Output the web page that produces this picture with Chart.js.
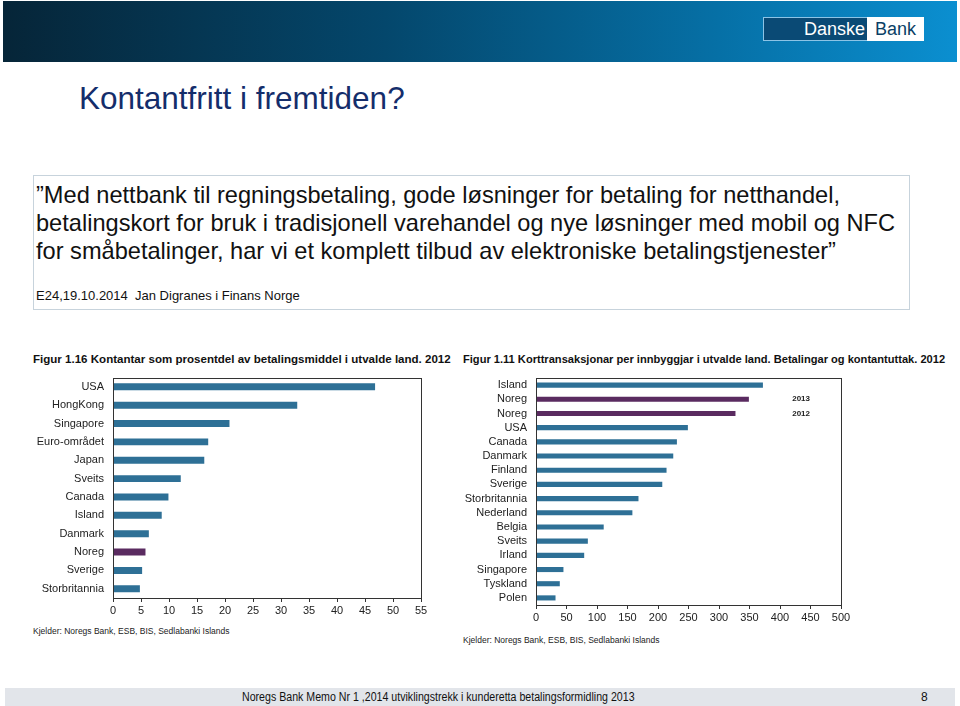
<!DOCTYPE html>
<html lang="no">
<head>
    <meta charset="UTF-8">
    <title>Kontantfritt i fremtiden?</title>
    <style>
        body {
            margin: 0;
            width: 960px;
            height: 706px;
            position: relative;
            overflow: hidden;
            background: #fff;
            font-family: "Liberation Sans", Arial, sans-serif;
        }

        #header {
            position: absolute;
            left: 3px; top: 1px; width: 954px; height: 61px;
            background: linear-gradient(to right, #062538 0%, #04476c 40%, #0670a6 75%, #0b8fd0 100%);
        }

        #logo-danske {
            position: absolute;
            left: 763px; top: 17px; width: 101px; height: 22px;
            background: #0a4a75;
            border: 1px solid #8cc4e6;
            color: #fff;
            font-size: 18px;
            line-height: 22px;
            text-align: right;
            padding-right: 2px;
            box-sizing: content-box;
        }

        #logo-bank {
            position: absolute;
            left: 867px; top: 17px; width: 57px; height: 24px;
            background: #fff;
            color: #0a3f66;
            font-size: 18px;
            line-height: 24px;
            text-align: center;
        }

        #title {
            position: absolute;
            left: 79px; top: 80px;
            font-size: 31.5px;
            color: #142d6b;
            white-space: nowrap;
        }

        #quote {
            position: absolute;
            left: 33px; top: 175px; width: 875px; height: 133px;
            border: 1px solid #c7d3dc;
        }

        #quote p {
            margin: 0;
            position: absolute;
            left: 2px; top: 5px;
            font-size: 23.6px;
            line-height: 28px;
            color: #111;
            white-space: nowrap;
        }

        #quote .src {
            top: 112px;
            font-size: 13px;
            line-height: 16px;
        }

        .fig-title {
            position: absolute;
            top: 353px;
            font-weight: bold;
            white-space: nowrap;
            color: #111;
        }

        .source {
            position: absolute;
            font-size: 8.5px;
            color: #222;
            white-space: nowrap;
        }

        .chart-box {
            position: absolute;
        }

        #footer {
            position: absolute;
            left: 5px; top: 688px; width: 950px; height: 18px;
            background: #e2e5ea;
            font-size: 12px;
            line-height: 18px;
            color: #111;
        }

        #footer .memo {
            position: absolute;
            left: 237px;
            white-space: nowrap;
            transform: scaleX(0.885);
            transform-origin: left center;
        }
    </style>
</head>
<body>
<div id="header">
</div>
<div id="logo-danske">Danske</div>
<div id="logo-bank">Bank</div>

<div id="title">Kontantfritt i fremtiden?</div>

<div id="quote">
    <p>”Med nettbank til regningsbetaling, gode løsninger for betaling for netthandel,<br>
        betalingskort for bruk i tradisjonell varehandel og nye løsninger med mobil og NFC<br>
        for småbetalinger, har vi et komplett tilbud av elektroniske betalingstjenester”</p>
    <p class="src">E24,19.10.2014&nbsp; Jan Digranes i Finans Norge</p>
</div>

<div class="fig-title" style="left:33px; font-size:11.55px;">Figur 1.16 Kontantar som prosentdel av betalingsmiddel i utvalde land. 2012</div>
<div class="fig-title" style="left:463px; font-size:11.1px;">Figur 1.11 Korttransaksjonar per innbyggjar i utvalde land. Betalingar og kontantuttak. 2012</div>

<div class="chart-box" style="left:30px; top:370px; width:415px; height:255px;">
    <canvas id="cashChart"></canvas>
</div>
<div class="chart-box" style="left:460px; top:370px; width:400px; height:265px;">
    <canvas id="cardChart"></canvas>
</div>

<div class="source" style="left:33px; top:626px;">Kjelder: Noregs Bank, ESB, BIS, Sedlabanki Islands</div>
<div class="source" style="left:463px; top:635px;">Kjelder: Noregs Bank, ESB, BIS, Sedlabanki Islands</div>

<div id="footer">
    <span class="memo">Noregs Bank Memo Nr 1 ,2014 utviklingstrekk i kunderetta betalingsformidling 2013</span>
    <span style="position:absolute; left:916px;">8</span>
</div>

<script src="https://cdn.jsdelivr.net/npm/chart.js"></script>
<script>
    // Figur 1.16 - kontantar i prosent av betalingsmiddel
    const cashLabels = ["USA", "HongKong", "Singapore", "Euro-området", "Japan", "Sveits", "Canada", "Island", "Danmark", "Noreg", "Sverige", "Storbritannia"];
    const cashValues = [46.8, 32.9, 20.8, 17.0, 16.3, 12.1, 9.9, 8.7, 6.4, 5.8, 5.2, 4.8];

    // Figur 1.11 - korttransaksjonar per innbyggjar
    const cardLabels = ["Island", "Noreg", "Noreg", "USA", "Canada", "Danmark", "Finland", "Sverige", "Storbritannia", "Nederland", "Belgia", "Sveits", "Irland", "Singapore", "Tyskland", "Polen"];
    const cardValues = [372, 349, 327, 249, 231, 225, 214, 207, 168, 158, 111, 85, 79, 45, 39, 32];
    const cardNotes = ["", "2013", "2012", "", "", "", "", "", "", "", "", "", "", "", "", ""];

    const blue = '#2e7096';
    const purple = '#5a2b60';

    // ramme rundt plottet
    const framePlugin = {
        id: 'frame',
        afterDraw(chart) {
            const a = chart.chartArea;
            const ctx = chart.ctx;
            ctx.save();
            ctx.strokeStyle = '#333';
            ctx.lineWidth = 1;
            ctx.strokeRect(Math.round(a.left) + 0.5, Math.round(a.top) + 0.5, Math.round(a.right - a.left), Math.round(a.bottom - a.top));
            ctx.restore();
        }
    };

    // årstal ved Noreg-stolpane
    const notePlugin = {
        id: 'notes',
        afterDatasetsDraw(chart) {
            const ctx = chart.ctx;
            const x = chart.scales.x.getPixelForValue(420);
            ctx.save();
            ctx.font = 'bold 8px "Liberation Sans", Arial, sans-serif';
            ctx.fillStyle = '#222';
            ctx.textBaseline = 'middle';
            cardNotes.forEach((note, i) => {
                if (note) {
                    ctx.fillText(note, x, chart.scales.y.getPixelForValue(i));
                }
            });
            ctx.restore();
        }
    };

    Chart.defaults.font.family = '"Liberation Sans", Arial, sans-serif';
    Chart.defaults.color = '#222';

    function renderChart(canvasId, labels, values, max, step, yWidth, xHeight, padding, barPct, plugins) {
        new Chart(document.getElementById(canvasId), {
            type: 'bar',
            data: {
                labels: labels,
                datasets: [{
                    data: values,
                    backgroundColor: labels.map(l => l === 'Noreg' ? purple : blue),
                    barPercentage: barPct,
                    categoryPercentage: 1
                }]
            },
            options: {
                indexAxis: 'y',
                responsive: true,
                maintainAspectRatio: false,
                animation: false,
                layout: {padding: padding},
                plugins: {legend: {display: false}, tooltip: {enabled: false}},
                scales: {
                    x: {
                        min: 0,
                        max: max,
                        border: {display: false},
                        grid: {drawOnChartArea: false, drawTicks: true, tickLength: 4, color: '#333'},
                        ticks: {stepSize: step, padding: 2, font: {size: 11}, maxRotation: 0},
                        afterFit: scale => { scale.height = xHeight; }
                    },
                    y: {
                        border: {display: false},
                        grid: {display: false},
                        ticks: {padding: 1, font: {size: 11}, autoSkip: false},
                        afterFit: scale => { scale.width = yWidth; }
                    }
                }
            },
            plugins: plugins
        });
    }

    renderChart('cashChart', cashLabels, cashValues, 55, 5, 83, 27, {top: 7, right: 24, left: 0, bottom: 0}, 0.38, [framePlugin]);
    renderChart('cardChart', cardLabels, cardValues, 500, 50, 76, 30, {top: 8, right: 19, left: 0, bottom: 0}, 0.36, [framePlugin, notePlugin]);
</script>
</body>
</html>
